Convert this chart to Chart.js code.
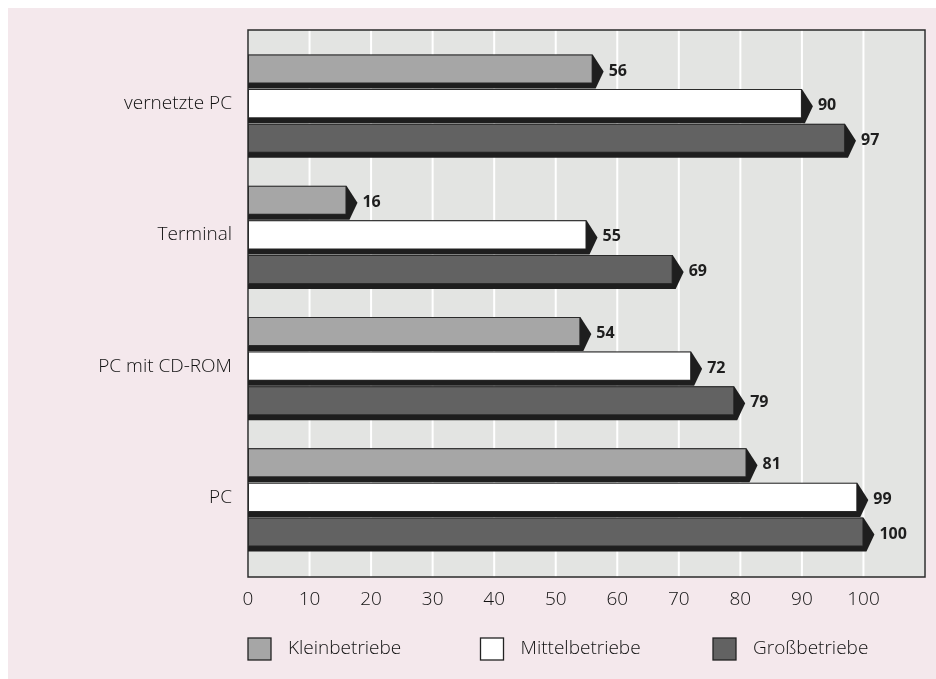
<!DOCTYPE html>
<html>
<head>
<meta charset="utf-8">
<script src="https://cdn.jsdelivr.net/npm/chart.js@4.4.0/dist/chart.umd.min.js"></script>
<style>
  html, body { margin: 0; padding: 0; background: #fff; overflow: hidden; }
  #bg { position: absolute; left: 8px; top: 8px; right: 0; bottom: 0; background: #f4e8ec; }
  #wrap { position: absolute; left: 0; top: 0; width: 936px; height: 679px; }
</style>
</head>
<body>
<div id="bg"></div>
<div id="wrap"><canvas id="chart" width="936" height="679"></canvas></div>
<script>
const categories = ['vernetzte PC', 'Terminal', 'PC mit CD-ROM', 'PC'];
const seriesNames = ['Kleinbetriebe', 'Mittelbetriebe', 'Großbetriebe'];
const klein = [56, 16, 54, 81];
const mittel = [90, 55, 72, 99];
const gross = [97, 69, 79, 100];
const xMax = 110;

const FONT = '"Open Sans", "Noto Sans", sans-serif';

/* gray plot box with white gridlines, a bit taller than the chart area */
const plotBox = {
  id: 'plotBox',
  beforeDatasetsDraw(chart) {
    const { ctx, chartArea } = chart;
    const xs = chart.scales.x;
    const top = chartArea.top - 8;
    const bottom = chartArea.bottom + 14;
    ctx.save();
    ctx.fillStyle = '#e3e4e2';
    ctx.fillRect(chartArea.left, top, chartArea.right - chartArea.left, bottom - top);
    ctx.strokeStyle = '#ffffff';
    ctx.lineWidth = 2;
    xs.ticks.forEach(t => {
      const px = xs.getPixelForValue(t.value);
      ctx.beginPath();
      ctx.moveTo(px, top);
      ctx.lineTo(px, bottom);
      ctx.stroke();
    });
    ctx.strokeStyle = '#2a2a2a';
    ctx.lineWidth = 1.5;
    ctx.strokeRect(chartArea.left, top, chartArea.right - chartArea.left, bottom - top);

    // dark shadow + arrow tip behind every bar
    ctx.fillStyle = '#1e1e1e';
    chart.data.datasets.forEach((ds, i) => {
      chart.getDatasetMeta(i).data.forEach(bar => {
        const h = bar.height;
        const t = bar.y - h / 2, b = bar.y + h / 2;
        const d = 5, a = 11;
        ctx.beginPath();
        ctx.moveTo(bar.base, t);
        ctx.lineTo(bar.x, t);
        ctx.lineTo(bar.x + a, bar.y + d / 2);
        ctx.lineTo(bar.x + 3, b + d);
        ctx.lineTo(bar.base, b + d);
        ctx.closePath();
        ctx.fill();
      });
    });
    ctx.restore();
  },
  afterDatasetsDraw(chart) {
    const { ctx } = chart;
    ctx.save();
    ctx.fillStyle = '#1e1e1e';
    ctx.font = 'bold 16px ' + FONT;
    ctx.textAlign = 'left';
    ctx.textBaseline = 'middle';
    chart.data.datasets.forEach((ds, i) => {
      chart.getDatasetMeta(i).data.forEach((bar, j) => {
        ctx.fillText(ds.data[j], bar.x + 16, bar.y + 2);
      });
    });
    ctx.restore();
  },
  afterDraw(chart) {
    // legend row under the axis
    const { ctx, chartArea } = chart;
    ctx.save();
    ctx.font = '300 19px ' + FONT;
    ctx.textBaseline = 'middle';
    ctx.textAlign = 'left';
    const y = chartArea.bottom + 86;
    chart.data.datasets.forEach((ds, i) => {
      const x = chartArea.left + i * 232.5;
      ctx.fillStyle = ds.backgroundColor;
      ctx.fillRect(x, y - 11, 23, 22);
      ctx.strokeStyle = '#222';
      ctx.lineWidth = 1.3;
      ctx.strokeRect(x, y - 11, 23, 22);
      ctx.fillStyle = '#111';
      ctx.fillText(ds.label, x + 40, y);
    });
    ctx.restore();
  }
};

new Chart(document.getElementById('chart'), {
  type: 'bar',
  data: {
    labels: categories,
    datasets: [
      { label: seriesNames[0], data: klein, backgroundColor: '#a6a6a6' },
      { label: seriesNames[1], data: mittel, backgroundColor: '#ffffff' },
      { label: seriesNames[2], data: gross, backgroundColor: '#626262' }
    ].map(ds => Object.assign(ds, {
      borderColor: '#2a2a2a',
      borderWidth: 1,
      borderSkipped: false,
      categoryPercentage: 0.79,
      barPercentage: 0.84
    }))
  },
  options: {
    indexAxis: 'y',
    responsive: false,
    animation: false,
    layout: { padding: { left: 0, right: 11, top: 38, bottom: 64 } },
    plugins: {
      legend: { display: false },
      tooltip: { enabled: false }
    },
    scales: {
      x: {
        min: 0,
        max: xMax,
        grid: { display: false, drawTicks: false },
        border: { display: false },
        afterFit: scale => {
          scale.height = 52;
          scale.paddingRight = 0;
          scale.paddingLeft = 0;
        },
        ticks: {
          stepSize: 10,
          padding: 25,
          maxRotation: 0,
          minRotation: 0,
          color: '#111',
          font: { family: FONT, size: 19, weight: 300 },
          callback: v => (v > 100 ? '' : v)
        }
      },
      y: {
        grid: { display: false, drawTicks: false },
        border: { display: false },
        afterFit: scale => { scale.width = 248; },
        ticks: {
          padding: 16,
          color: '#111',
          font: { family: FONT, size: 19, weight: 300 }
        }
      }
    }
  },
  plugins: [plotBox]
});
</script>
</body>
</html>
